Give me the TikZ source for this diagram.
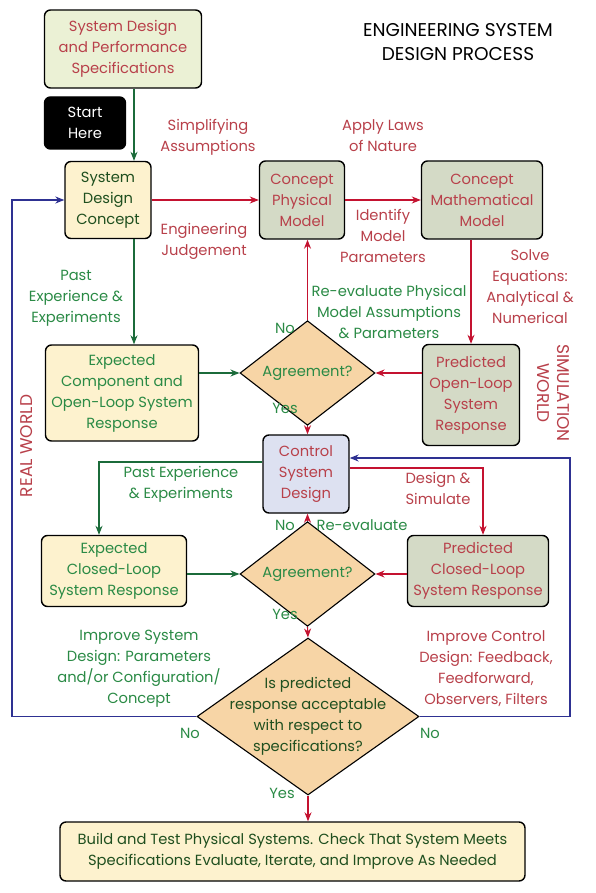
\documentclass[tikz,border=0pt]{standalone}
\usepackage{fontspec}
\setmainfont{Poppins}
\usetikzlibrary{positioning,shapes.geometric,arrows.meta}

\definecolor{redtxt}{HTML}{B8404A}
\definecolor{redln}{HTML}{C41230}
\definecolor{greentxt}{HTML}{2A8A45}
\definecolor{greenln}{HTML}{1B6B3A}
\definecolor{darkgreen}{HTML}{1F4F1F}
\definecolor{navy}{HTML}{2E3192}
\definecolor{specfill}{HTML}{EBF1D5}
\definecolor{conceptfill}{HTML}{FDF2CE}
\definecolor{modelfill}{HTML}{D4DAC6}
\definecolor{ctrlfill}{HTML}{DDE1F1}
\definecolor{decfill}{HTML}{F7D5A6}

\begin{document}
\begin{tikzpicture}[x=1pt, y=-1pt,
  font=\fontsize{14.7}{21}\selectfont,
  >={Stealth[length=9pt,width=7pt]},
  box/.style={draw, line width=1.4pt, rounded corners=6pt, align=center, inner sep=2pt},
  decision/.style={draw, line width=1.1pt, diamond, fill=decfill, inner sep=0pt, align=center},
  redbox/.style={box, fill=modelfill, text=redtxt},
  greenbox/.style={box, fill=conceptfill, text=greentxt},
  rlabel/.style={align=center, text=redtxt},
  glabel/.style={align=center, text=greentxt},
  worldlabel/.style={rlabel, font=\fontsize{17}{20}\selectfont},
  rarrow/.style={->, redln, line width=1.1pt},
  garrow/.style={->, greenln, line width=1.1pt},
  barrow/.style={->, navy, line width=1.1pt}]
\useasboundingbox (0,0) rectangle (595,893);

% top row
\node [box, fill=specfill, text=redtxt, minimum width=157pt, minimum height=78pt] (spec) at (123,49) {System Design\\and Performance\\Specifications};
\node [box, fill=black, text=white, minimum width=81pt, minimum height=52pt] (start) at (85,123) {Start\\Here};
\node [box, fill=conceptfill, text=darkgreen, minimum width=86pt, minimum height=77pt] (concept) at (108,200) {System\\Design\\Concept};
\node [redbox, minimum width=85pt, minimum height=78pt] (phys) at (302,200) {Concept\\Physical\\Model};
\node [redbox, minimum width=121pt, minimum height=78pt] (math) at (482,200) {Concept\\Mathematical\\Model};
\node [font=\fontsize{18.5}{24}\selectfont, align=center] (title) at (458,42) {ENGINEERING SYSTEM\\DESIGN PROCESS};

% open loop
\node [redbox, minimum width=97pt, minimum height=101pt] (predol) at (471,395) {Predicted\\Open-Loop\\System\\Response};
\node [greenbox, minimum width=153pt, minimum height=96pt] (expol) at (122,393) {Expected\\Component and\\Open-Loop System\\Response};
\node [decision, text=greentxt, minimum width=135pt, minimum height=67pt] (agreeol) at (307.5,373) {Agreement?};

% closed loop
\node [box, fill=ctrlfill, text=redtxt, minimum width=86pt, minimum height=78pt] (ctrl) at (306,474) {Control\\System\\Design};
\node [greenbox, minimum width=145pt, minimum height=71pt] (expcl) at (114,571) {Expected\\Closed-Loop\\System Response};
\node [redbox, minimum width=141pt, minimum height=71pt] (predcl) at (478,571) {Predicted\\Closed-Loop\\System Response};
\node [decision, text=greentxt, minimum width=135pt, minimum height=68pt] (agreecl) at (307.5,574) {Agreement?};

% final check
\node [decision, minimum width=222pt, minimum height=157pt] (check) at (308,716.5) {};
\node [align=center, text=darkgreen] (checktext) at (check.center) {Is predicted\\response acceptable\\with respect to\\specifications?};
\node [box, fill=conceptfill, text=darkgreen, minimum width=465pt, minimum height=59pt] (build) at (292.5,851.5) {Build and Test Physical Systems. Check That System Meets\\Specifications Evaluate, Iterate, and Improve As Needed};

% labels
\node [rlabel] (simp) at (208,137) {Simplifying\\Assumptions};
\node [rlabel] (judge) at (204,241) {Engineering\\Judgement};
\node [rlabel] (laws) at (383,136) {Apply Laws\\of Nature};
\node [rlabel] (ident) at (383,236) {Identify\\Model\\Parameters};
\node [rlabel] (solve) at (530,287) {Solve\\Equations:\\Analytical \&\\Numerical};
\node [glabel] (pasta) at (76,298) {Past\\Experience \&\\Experiments};
\node [glabel] (reevala) at (389,312) {Re-evaluate Physical\\Model Assumptions\\\& Parameters};
\node [glabel] (noa) at (285,328) {No};
\node [glabel] (yesa) at (285,408) {Yes};
\node [glabel] (pastb) at (181,484) {Past Experience\\\& Experiments};
\node [rlabel] (simul) at (438,488) {Design \&\\Simulate};
\node [glabel] (nob) at (285,525) {No};
\node [glabel] (reevalb) at (362,525) {Re-evaluate};
\node [glabel] (yesb) at (285,614) {Yes};
\node [glabel] (impsys) at (139,669) {Improve System\\Design: Parameters\\and/or Configuration/\\Concept};
\node [rlabel] (impctl) at (486,669) {Improve Control\\Design: Feedback,\\Feedforward,\\Observers, Filters};
\node [glabel] (noc) at (190,733) {No};
\node [glabel] (nod) at (430,733) {No};
\node [glabel] (yesc) at (282,793) {Yes};
\node [worldlabel, rotate=-90] (simworld) at (553,393) {SIMULATION\\WORLD};
\node [worldlabel, rotate=90] (realworld) at (27,446) {REAL WORLD};
\coordinate (realx) at (12,0);
\coordinate (simx) at (570,0);

% connectors
\draw[garrow] ([xshift=26pt]concept.north |- spec.south) -- ([xshift=26pt]concept.north);
\draw[rarrow] (concept) -- (phys);
\draw[rarrow] (phys) -- (math);
\draw[rarrow] (predol.north |- math.south) -- (predol.north);
\draw[garrow] ([xshift=26pt]concept.south) -- ([xshift=26pt]concept.south |- expol.north);
\draw[garrow] (expol.east |- agreeol.west) -- (agreeol.west);
\draw[rarrow] (predol.west |- agreeol.east) -- (agreeol.east);
\draw[rarrow] (agreeol.north) -- (agreeol.north |- phys.south);
\draw[rarrow] (agreeol.south) -- (agreeol.south |- ctrl.north);
\draw[garrow] ([yshift=12pt]ctrl.west) -| ([xshift=-15pt]expcl.north);
\draw[rarrow] ([yshift=6pt]ctrl.east) -| ([xshift=5pt]predcl.north);
\draw[garrow] (expcl.east |- agreecl.west) -- (agreecl.west);
\draw[rarrow] (predcl.west |- agreecl.east) -- (agreecl.east);
\draw[rarrow] (agreecl.north) -- (agreecl.north |- ctrl.south);
\draw[rarrow] (agreecl.south) -- (check.north);
\draw[barrow] (check.west) -- (check.west -| realx) |- (concept.west);
\draw[barrow] (check.east) -- (check.east -| simx) |- ([yshift=16pt]ctrl.east);
\draw[rarrow] (check.south) -- (check.south |- build.north);
\end{tikzpicture}
\end{document}
